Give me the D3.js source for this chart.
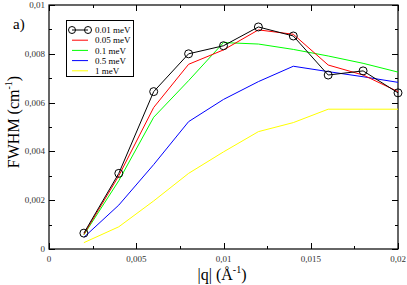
<!DOCTYPE html>
<html>
<head>
<meta charset="utf-8">
<script src="https://cdn.jsdelivr.net/npm/d3@7"></script>
<style>
  body { margin: 0; background: #fff; }
  svg { display: block; }
  text { font-family: "Times New Roman", "Liberation Serif", "DejaVu Serif", serif; }
</style>
</head>
<body>
<script>
var qValues = [0.002, 0.004, 0.006, 0.008, 0.010, 0.012, 0.014, 0.016, 0.018, 0.020];

var fwhm001 = [0.00065, 0.0031, 0.00645, 0.0080, 0.00833, 0.0091, 0.00873, 0.00713, 0.0073, 0.0064];
var fwhm005 = [0.0006, 0.0030, 0.0058, 0.00757, 0.00816, 0.00898, 0.0088, 0.00754, 0.00713, 0.00645];
var fwhm01  = [0.00058, 0.0028, 0.0054, 0.0069, 0.00846, 0.0084, 0.00818, 0.00791, 0.00761, 0.00725];
var fwhm05  = [0.00048, 0.0018, 0.00346, 0.00522, 0.00613, 0.00686, 0.00749, 0.00727, 0.00706, 0.00683];
var fwhm1   = [0.00026, 0.00091, 0.00197, 0.0031, 0.00398, 0.00481, 0.00518, 0.00573, 0.00573, 0.00573];

var seriesNames = ['0.01 meV', '0.05 meV', '0.1 meV', '0.5 meV', '1 meV'];
var seriesColors = ['#000000', '#ff0000', '#00ff00', '#0000ff', '#ffff00'];

var xTicks = [0, 0.005, 0.01, 0.015, 0.02];
var xTickLabels = ['0', '0,005', '0,01', '0,015', '0,02'];
var yTicks = [0, 0.002, 0.004, 0.006, 0.008, 0.01];
var yTickLabels = ['0', '0,002', '0,004', '0,006', '0,008', '0,01'];

var allSeries = [fwhm001, fwhm005, fwhm01, fwhm05, fwhm1];

var svgWidth = 407, svgHeight = 285;
var plotLeft = 49, plotRight = 398, plotTop = 5, plotBottom = 249;

var svg = d3.select('body').append('svg')
    .attr('width', svgWidth)
    .attr('height', svgHeight);

var xScale = d3.scaleLinear().domain([0, 0.02]).range([plotLeft, plotRight]);
var yScale = d3.scaleLinear().domain([0, 0.01]).range([plotBottom, plotTop]);

// major + minor ticks, pointing inward on all four sides
var xMinor = d3.range(0, 0.0201, 0.0025);
var yMinor = d3.range(0, 0.0101, 0.001);

var ticks = svg.append('g').attr('stroke', '#000').attr('stroke-width', 1);
xMinor.forEach(function(v, i) {
  var len = (i % 2 === 0) ? 6 : 3;
  var x = Math.round(xScale(v)) + 0.5;
  ticks.append('line').attr('x1', x).attr('x2', x).attr('y1', plotBottom).attr('y2', plotBottom - len);
  ticks.append('line').attr('x1', x).attr('x2', x).attr('y1', plotTop).attr('y2', plotTop + len);
});
yMinor.forEach(function(v, i) {
  var len = (i % 2 === 0) ? 6 : 3;
  var y = Math.round(yScale(v)) + 0.5;
  ticks.append('line').attr('y1', y).attr('y2', y).attr('x1', plotLeft).attr('x2', plotLeft + len);
  ticks.append('line').attr('y1', y).attr('y2', y).attr('x1', plotRight).attr('x2', plotRight - len);
});

// frame
svg.append('rect')
    .attr('x', plotLeft).attr('y', plotTop)
    .attr('width', plotRight - plotLeft).attr('height', plotBottom - plotTop)
    .attr('fill', 'none').attr('stroke', '#000').attr('stroke-width', 1.2);

// tick labels
svg.selectAll('.xlab').data(xTicks).enter().append('text')
    .attr('x', function(d) { return xScale(d); })
    .attr('y', plotBottom + 13)
    .attr('text-anchor', 'middle')
    .attr('font-size', 9)
    .attr('fill', '#333')
    .text(function(d, i) { return xTickLabels[i]; });

svg.selectAll('.ylab').data(yTicks).enter().append('text')
    .attr('x', plotLeft - 4)
    .attr('y', function(d) { return yScale(d) + 3; })
    .attr('text-anchor', 'end')
    .attr('font-size', 9)
    .attr('fill', '#333')
    .text(function(d, i) { return yTickLabels[i]; });

// lines, drawn from last to first so black is on top
var line = d3.line()
    .x(function(d, i) { return xScale(qValues[i]); })
    .y(function(d) { return yScale(d); });

for (var s = allSeries.length - 1; s >= 0; s--) {
  svg.append('path')
      .attr('d', line(allSeries[s]))
      .attr('fill', 'none')
      .attr('stroke', seriesColors[s])
      .attr('stroke-width', 1);
}

svg.selectAll('.pt').data(fwhm001).enter().append('circle')
    .attr('cx', function(d, i) { return xScale(qValues[i]); })
    .attr('cy', function(d) { return yScale(d); })
    .attr('r', 4)
    .attr('fill', 'none')
    .attr('stroke', '#000')
    .attr('stroke-width', 1);

// legend
var legend = svg.append('g');
legend.append('rect')
    .attr('x', 66.5).attr('y', 20.5)
    .attr('width', 67).attr('height', 56)
    .attr('fill', '#fff').attr('stroke', '#000').attr('stroke-width', 1);

seriesNames.forEach(function(name, i) {
  var y = 30 + i * 10.2;
  legend.append('line')
      .attr('x1', 72).attr('x2', 88)
      .attr('y1', y).attr('y2', y)
      .attr('stroke', seriesColors[i]).attr('stroke-width', 1);
  if (i === 0) {
    [72, 88].forEach(function(cx) {
      legend.append('circle').attr('cx', cx).attr('cy', y).attr('r', 3.5)
          .attr('fill', 'none').attr('stroke', '#000');
    });
  }
  legend.append('text')
      .attr('x', 95).attr('y', y + 3.2)
      .attr('font-size', 9)
      .text(name);
});

// labels
svg.append('text')
    .attr('x', 13).attr('y', 29)
    .attr('font-size', 15)
    .text('a)');

var yLabel = svg.append('text')
    .attr('transform', 'translate(19,122) rotate(-90)')
    .attr('text-anchor', 'middle')
    .attr('font-size', 16);
yLabel.append('tspan').text('FWHM (cm');
yLabel.append('tspan').attr('font-size', 10).attr('dy', -7).text('-1');
yLabel.append('tspan').attr('dy', 7).text(')');

var xLabel = svg.append('text')
    .attr('x', 222).attr('y', 280)
    .attr('text-anchor', 'middle')
    .attr('font-size', 16);
xLabel.append('tspan').text('|q| (\u00C5');
xLabel.append('tspan').attr('font-size', 10).attr('dy', -7).text('-1');
xLabel.append('tspan').attr('dy', 7).text(')');
</script>
</body>
</html>
